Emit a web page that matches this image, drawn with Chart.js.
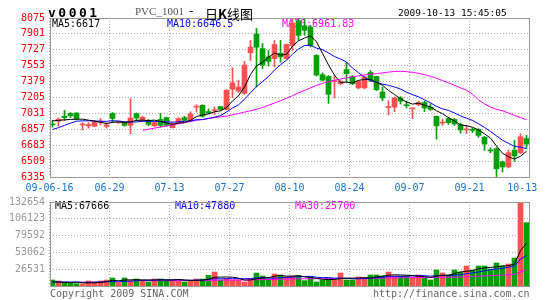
<!DOCTYPE html>
<html>
<head>
<meta charset="utf-8">
<script src="https://cdn.jsdelivr.net/npm/chart.js@4.4.1/dist/chart.umd.min.js"></script>
<style>
  body { margin: 0; background: #fff; }
  #box { position: relative; width: 545px; height: 300px; overflow: hidden; background: #fff; }
  #box canvas { position: absolute; left: 0; }
  .t { position: absolute; white-space: nowrap; line-height: 1; }
</style>
</head>
<body>
<div id="box">
  <canvas id="kChart" width="545" height="200" style="top:0;width:545px;height:200px"></canvas>
  <canvas id="volChart" width="545" height="110" style="top:190px;width:545px;height:110px"></canvas>

  <div class="t" style="left:48px;top:5px;font:bold 13px 'DejaVu Sans Mono';letter-spacing:2.5px;color:#000">v0001</div>
  <div class="t" style="left:135px;top:5px;font:11px 'Liberation Serif';color:#555">PVC_1001</div>
  <div class="t" style="left:189px;top:4px;font:12px 'DejaVu Sans';color:#000">-</div>
  <div class="t" style="left:205px;top:4px;font:13px 'Noto Sans CJK SC';color:#000">日<b>K</b>线图</div>
  <div class="t" style="left:398px;top:7px;font:9.5px 'DejaVu Sans Mono';color:#000">2009-10-13 15:45:05</div>

  <div class="t" style="left:50px;top:288px;font:10px 'DejaVu Sans Mono';color:#666">Copyright 2009 SINA.COM</div>
  <div class="t" style="left:373px;top:288px;font:10px 'DejaVu Sans Mono';color:#666">http://finance.sina.com.cn</div>
</div>

<script>
// 날짜 라벨 (10 거래일마다)
var dateLabels = ['09-06-16', '06-29', '07-13', '07-27', '08-10', '08-24', '09-07', '09-21', '10-13'];
var priceTicks = [6335, 6509, 6683, 6857, 7031, 7205, 7379, 7553, 7727, 7901, 8075];
var volTicks = [26531, 53062, 79592, 106123, 132654];

// 일봉 OHLC
var openP = [
  6915, 6945, 7000, 7030, 7035, 6905, 6895, 6890, 6935, 6890,
  7030, 6930, 6935, 6900, 7030, 6955, 6955, 6895, 6965, 6985,
  6875, 6930, 6985, 6955, 7100, 7120, 7050, 7060, 7105, 7075,
  7295, 7275, 7250, 7695, 7900, 7740, 7650, 7630, 7690, 7630,
  7775, 8045, 7990, 7975, 7665, 7455, 7435, 7380, 7355, 7510,
  7435, 7310, 7310, 7480, 7435, 7265, 7095, 7100, 7200, 7120,
  7080, 7125, 7150, 7100, 7000, 6925, 6975, 6965, 6910, 6850,
  6858, 6855, 6770, 6625, 6645, 6500, 6445, 6630, 6600, 6755,
];
var closeP = [
  6905, 6967, 6985, 7005, 6975, 6910, 6910, 6935, 6940, 6905,
  6975, 6935, 6900, 6980, 6980, 6990, 6910, 6930, 6900, 6900,
  6920, 6975, 6955, 7025, 7110, 7000, 7040, 7070, 7075, 7285,
  7365, 7320, 7560, 7755, 7755, 7560, 7600, 7785, 7650, 7785,
  8020, 7885, 7940, 7775, 7450, 7395, 7240, 7385, 7380, 7465,
  7355, 7380, 7430, 7395, 7290, 7200, 7100, 7200, 7165, 7115,
  7085, 7150, 7090, 7075, 6895, 6930, 6930, 6915, 6850, 6855,
  6845, 6790, 6695, 6620, 6425, 6445, 6600, 6565, 6775, 6695,
];
var highP = [
  6955, 6980, 7065, 7040, 7040, 6930, 6930, 6950, 6975, 6930,
  7040, 6945, 6940, 7195, 7035, 7000, 6965, 6945, 7030, 6990,
  6930, 6985, 7000, 7050, 7125, 7125, 7080, 7100, 7110, 7290,
  7530, 7395, 7600, 7830, 7960, 7795, 7720, 7830, 7830, 7790,
  8065, 8075, 8060, 7995, 7675, 7475, 7445, 7445, 7400, 7590,
  7445, 7390, 7440, 7500, 7440, 7320, 7170, 7210, 7215, 7165,
  7090, 7165, 7165, 7135, 7000, 6970, 6985, 6975, 6925, 6900,
  6870, 6865, 6780, 6655, 6655, 6510, 6630, 6735, 6810, 6790,
];
var lowP = [
  6880, 6890, 6955, 6985, 6960, 6850, 6870, 6885, 6905, 6870,
  6930, 6920, 6890, 6810, 6950, 6940, 6895, 6885, 6880, 6890,
  6870, 6920, 6950, 6950, 7045, 6990, 7025, 7020, 7070, 7070,
  7205, 7260, 7240, 7610, 7320, 7520, 7550, 7540, 7590, 7625,
  7720, 7830, 7885, 7757, 7440, 7385, 7140, 7200, 7345, 7375,
  7345, 7300, 7300, 7380, 7280, 7170, 7015, 7050, 7135, 7090,
  6975, 7115, 7050, 7065, 6750, 6900, 6910, 6900, 6815, 6810,
  6820, 6770, 6625, 6600, 6340, 6390, 6435, 6505, 6590, 6650,
];

// 가격 이동평균
var ma5 = [
  6950, 6955, 6960, 6965, 6967, 6968, 6957, 6947, 6934, 6920,
  6933, 6938, 6931, 6939, 6954, 6957, 6952, 6958, 6942, 6926,
  6912, 6925, 6930, 6955, 6997, 7013, 7026, 7049, 7059, 7094,
  7167, 7223, 7321, 7457, 7551, 7590, 7646, 7691, 7670, 7676,
  7768, 7825, 7856, 7881, 7814, 7689, 7560, 7449, 7370, 7373,
  7365, 7393, 7402, 7405, 7370, 7339, 7283, 7237, 7191, 7156,
  7133, 7143, 7121, 7103, 7059, 7028, 6984, 6949, 6904, 6896,
  6879, 6851, 6807, 6761, 6675, 6595, 6557, 6531, 6562, 6617,
];
var ma10 = [
  6855, 6875, 6900, 6925, 6945, 6950, 6950, 6948, 6945, 6944,
  6951, 6948, 6939, 6937, 6937, 6945, 6945, 6945, 6941, 6940,
  6935, 6939, 6944, 6949, 6962, 6963, 6976, 6990, 7007, 7046,
  7090, 7125, 7185, 7258, 7323, 7379, 7435, 7506, 7564, 7614,
  7679, 7736, 7774, 7776, 7745, 7729, 7693, 7653, 7626, 7594,
  7527, 7477, 7426, 7388, 7372, 7352, 7338, 7320, 7298, 7263,
  7236, 7213, 7179, 7147, 7108, 7081, 7064, 7035, 7004, 6978,
  6954, 6918, 6878, 6833, 6786, 6737, 6704, 6669, 6662, 6646.5,
];
var ma30 = [
  null, null, null, null, null, null, null, null, null, null,
  null, null, null, null, null, 6846, 6858, 6870, 6882, 6893,
  6905, 6918, 6930, 6942, 6955, 6965, 6975, 6985, 6993, 7000,
  7015, 7030, 7045, 7060, 7076, 7095, 7120, 7145, 7170, 7196,
  7225, 7255, 7283, 7310, 7338, 7360, 7378, 7393, 7408, 7420,
  7432, 7442, 7452, 7460, 7465, 7475, 7483, 7490, 7492, 7488,
  7480, 7470, 7455, 7437, 7415, 7390, 7365, 7338, 7310, 7285,
  7240, 7180, 7135, 7100, 7075, 7060, 7035, 7010, 6985, 6961.83,
];

// 거래량
var vol = [
  9470, 7890, 5790, 4210, 3680, 3160, 7890, 6310, 7890, 9470,
  12620, 5260, 12620, 8420, 11050, 9470, 6310, 11050, 11050, 9470,
  9990, 9990, 6310, 7890, 11050, 11050, 16830, 22090, 9470, 11570,
  9470, 9470, 6310, 11050, 20510, 15780, 11050, 18940, 17360, 14730,
  15780, 15780, 8420, 13680, 6310, 9470, 12620, 9470, 20510, 9470,
  9470, 14200, 12620, 17360, 17360, 15780, 22090, 15780, 15780, 15780,
  12620, 17360, 12620, 9470, 25250, 20510, 17360, 25250, 22090, 31560,
  25250, 31560, 31560, 26830, 36290, 31560, 34720, 44180, 132654, 100000,
];
var vma5 = [
  6400, 6200, 5900, 5600, 6208, 4946, 4946, 5050, 5786, 6944,
  8836, 8310, 9572, 9678, 9994, 9364, 9574, 9260, 9786, 9470,
  9574, 10310, 9362, 8730, 9046, 9258, 10626, 13782, 14098, 14202,
  13886, 12414, 9258, 9574, 11362, 12624, 12940, 15466, 16728, 15572,
  15572, 16518, 14414, 13678, 11994, 10732, 10100, 10310, 11676, 12308,
  12308, 12624, 13254, 12624, 14202, 15464, 17042, 17674, 17358, 17042,
  16410, 15464, 14832, 13570, 15464, 17042, 17042, 19568, 22092, 23354,
  24302, 27142, 28404, 29352, 30298, 31560, 32192, 34716, 55881, 67666,
];
var vma10 = [
  6500, 6400, 6300, 6200, 6100, 6000, 6000, 6100, 6300, 6576,
  6891, 6628, 7311, 7732, 8469, 9100, 8942, 9416, 9732, 9732,
  9469, 9942, 9311, 9258, 9258, 9416, 10468, 11572, 11414, 11624,
  11572, 11520, 11520, 11836, 12782, 13255, 12677, 12362, 13151, 13467,
  14098, 14729, 14940, 15203, 13783, 13152, 13309, 12362, 12677, 12151,
  11520, 11362, 11782, 12150, 13255, 13886, 14833, 15464, 14991, 15622,
  15937, 16253, 16253, 15464, 16253, 16726, 16253, 17200, 17831, 19409,
  20672, 22092, 23986, 25722, 26826, 27931, 29667, 31560, 42616, 47880,
];
var vma30 = [
  null, null, null, null, null, null, null, null, null, null,
  null, null, null, null, null, 8300, 8350, 8400, 8450, 8500,
  8550, 8600, 8650, 8700, 8750, 8800, 8900, 9100, 9200, 9300,
  9400, 9500, 9550, 9650, 9900, 10100, 10200, 10450, 10700, 10900,
  11100, 11300, 11400, 11500, 11500, 11500, 11600, 11650, 11900, 11950,
  11950, 12050, 12100, 12200, 12350, 12500, 12700, 12850, 13000, 13150,
  13250, 13350, 13450, 13400, 13600, 13700, 13900, 14100, 14300, 14700,
  15100, 15500, 15900, 16300, 16800, 17300, 17800, 18700, 22300, 25700,
];

var UP = '#ff5050';
var DOWN = '#00a000';
var monoFont = { family: 'DejaVu Sans Mono', size: 10 };
var last = openP.length - 1;

var barColors = openP.map(function (o, i) {
  return closeP[i] >= o ? UP : DOWN;
});

// 한 칸 = 6px, 막대가 픽셀에 딱 맞도록 반 픽셀 이동
var xMin = -5 / 12;
var xMax = openP.length + xMin;

function lineSet(values, color) {
  return {
    type: 'line',
    data: values.map(function (v, i) { return { x: i, y: v }; }),
    borderColor: color,
    borderWidth: 1,
    pointRadius: 0,
    tension: 0,
    order: 0,
  };
}

// 틀 + MA 범례 글자
var chartFrame = {
  id: 'chartFrame',
  beforeDatasetsDraw: function (chart, args, opts) {
    var ctx = chart.ctx;
    ctx.save();
    ctx.font = '10px "DejaVu Sans Mono"';
    ctx.textBaseline = 'middle';
    opts.items.forEach(function (it) {
      ctx.fillStyle = it.color;
      ctx.fillText(it.text, it.x, chart.chartArea.top + opts.dy);
    });
    ctx.restore();
  },
  afterDraw: function (chart) {
    var ctx = chart.ctx;
    var a = chart.chartArea;
    ctx.save();
    ctx.strokeStyle = '#999';
    ctx.lineWidth = 1;
    ctx.strokeRect(a.left + 0.5, a.top + 0.5, a.right - a.left - 1, a.bottom - a.top);
    ctx.restore();
  },
};

function xScale(showLabels, height) {
  return {
    type: 'linear',
    min: xMin,
    max: xMax,
    offset: false,
    afterBuildTicks: function (s) {
      s.ticks = dateLabels.map(function (d, k) {
        // 마지막 라벨은 오른쪽 끝 안쪽으로
        return { value: Math.min(k * 10 - 0.5, xMax - 1.3) };
      });
    },
    ticks: {
      display: showLabels,
      autoSkip: false,
      maxRotation: 0,
      padding: 5,
      color: '#1874cd',
      font: monoFont,
      callback: function (v, i) { return dateLabels[i]; },
    },
    grid: {
      offset: false,
      drawTicks: false,
      color: function (c) { return c.index === dateLabels.length - 1 ? 'rgba(0,0,0,0)' : '#aaa'; },
    },
    border: { display: false, dash: [1, 2] },
    afterFit: function (s) { s.height = height; },
  };
}

function yScale(min, max, tickVals, color) {
  return {
    type: 'linear',
    min: min,
    max: max,
    afterBuildTicks: function (s) {
      s.ticks = tickVals.map(function (v) { return { value: v }; });
    },
    ticks: {
      color: color,
      font: monoFont,
      padding: 5,
      callback: function (v) { return String(v); },
    },
    grid: { drawTicks: false, color: '#aaa' },
    border: { display: false, dash: [1, 2] },
    afterFit: function (s) { s.width = 50; },
  };
}

var ctxK = document.getElementById('kChart').getContext('2d');
var ctxV = document.getElementById('volChart').getContext('2d');

var kChart = new Chart(ctxK, {
  type: 'bar',
  data: {
    datasets: [
      lineSet(ma5, '#000000'),
      lineSet(ma10, '#0000ff'),
      lineSet(ma30, '#ff00ff'),
      {
        // 몸통
        data: openP.map(function (o, i) { return { x: i, y: [o, closeP[i]] }; }),
        backgroundColor: barColors,
        barThickness: 5,
        minBarLength: 1,
        grouped: false,
        order: 1,
      },
      {
        // 꼬리
        data: lowP.map(function (l, i) { return { x: i, y: [l, highP[i]] }; }),
        backgroundColor: barColors,
        barThickness: 1,
        grouped: false,
        order: 2,
      },
    ],
  },
  options: {
    responsive: false,
    animation: false,
    events: [],
    layout: { padding: { top: 18, right: 15, left: 0, bottom: 0 } },
    scales: {
      x: xScale(true, 23),
      y: yScale(priceTicks[0], priceTicks[priceTicks.length - 1], priceTicks, '#ff0000'),
    },
    plugins: {
      legend: { display: false },
      tooltip: { enabled: false },
      chartFrame: {
        dy: 6,
        items: [
          { text: 'MA5:' + ma5[last], x: 52, color: '#000000' },
          { text: 'MA10:' + ma10[last], x: 167, color: '#0000ff' },
          { text: 'MA30:' + ma30[last], x: 282, color: '#ff00ff' },
        ],
      },
    },
  },
  plugins: [chartFrame],
});

var volChart = new Chart(ctxV, {
  type: 'bar',
  data: {
    datasets: [
      lineSet(vma5, '#000000'),
      lineSet(vma10, '#0000ff'),
      lineSet(vma30, '#ff00ff'),
      {
        data: vol.map(function (v, i) { return { x: i, y: v }; }),
        backgroundColor: barColors,
        barThickness: 5,
        grouped: false,
        order: 1,
      },
    ],
  },
  options: {
    responsive: false,
    animation: false,
    events: [],
    layout: { padding: { top: 12, right: 15, left: 0, bottom: 0 } },
    scales: {
      x: xScale(false, 14),
      y: yScale(0, volTicks[volTicks.length - 1], volTicks, '#999999'),
    },
    plugins: {
      legend: { display: false },
      tooltip: { enabled: false },
      chartFrame: {
        dy: 4,
        items: [
          { text: 'MA5:' + vma5[last], x: 55, color: '#000000' },
          { text: 'MA10:' + vma10[last], x: 175, color: '#0000ff' },
          { text: 'MA30:' + vma30[last], x: 295, color: '#ff00ff' },
        ],
      },
    },
  },
  plugins: [chartFrame],
});
</script>
</body>
</html>
